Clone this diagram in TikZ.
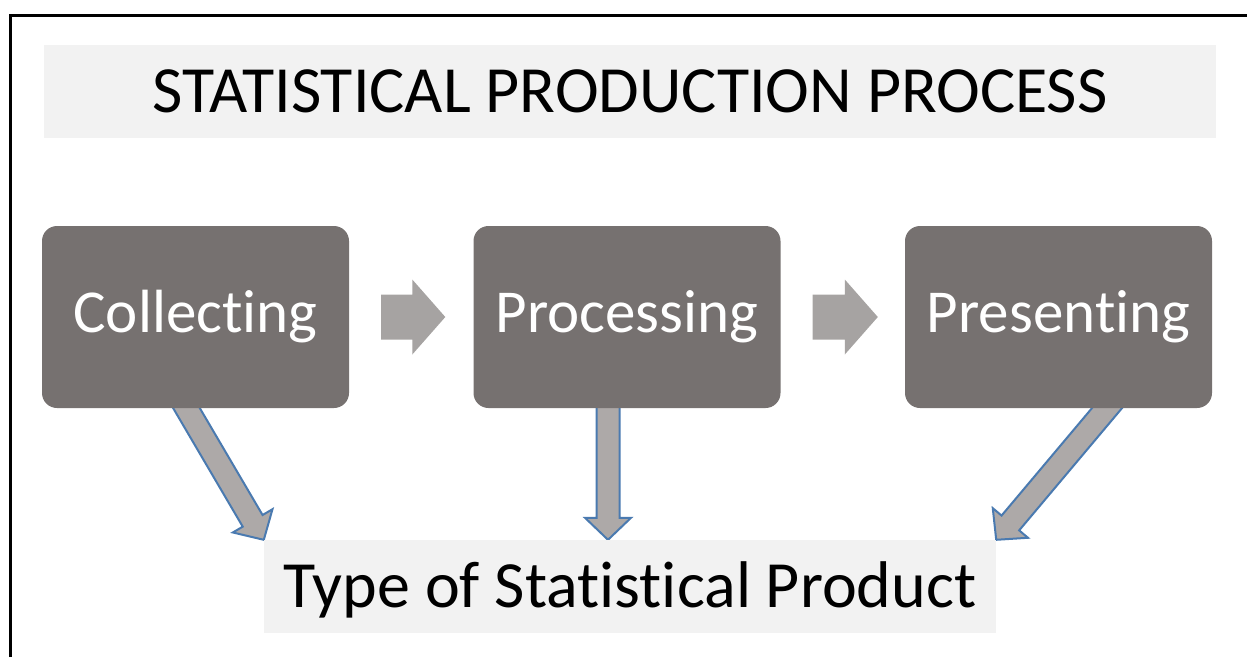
\documentclass[tikz,border=0pt]{standalone}
\usepackage{fontspec}
\setmainfont{Carlito}[RawFeature={-liga;-clig;-calt;-dlig}]
\usepackage{tikz}
\usetikzlibrary{calc, backgrounds}
\definecolor{boxgrey}{RGB}{118,113,112}
\definecolor{lightbar}{RGB}{242,242,242}
\definecolor{flowgrey}{RGB}{166,163,162}
\definecolor{downgrey}{RGB}{173,169,168}
\definecolor{edgeblue}{RGB}{74,122,176}
\tikzstyle{banner} = [rectangle, fill=lightbar, text=black, inner sep=0pt, text height=42pt, text depth=0pt]
\tikzstyle{stage} = [rectangle, rounded corners=15pt, minimum width=307pt, minimum height=182pt, text centered, fill=boxgrey, text=white, font=\fontsize{61}{70}\selectfont]
\tikzstyle{flow} = [fill=flowgrey]
\tikzstyle{feed} = [fill=downgrey, draw=edgeblue, line width=2pt, line join=miter]

% block arrow: [style]{from}{to}{half shaft}{half head}{head length}
\newcommand{\blockarrow}[6][]{%
  \coordinate (ba-neck) at ($(#3)!#6!(#2)$);
  \path[#1] ($(#2)!#4!90:(#3)$) -- ($(ba-neck)!#4!90:(#3)$) -- ($(ba-neck)!#5!90:(#3)$)
    -- (#3) -- ($(ba-neck)!#5!-90:(#3)$) -- ($(ba-neck)!#4!-90:(#3)$) -- ($(#2)!#4!-90:(#3)$) -- cycle;
}

\begin{document}
\begin{tikzpicture}[x=1pt, y=-1pt, node distance=431.5pt]
  \useasboundingbox (0,0) rectangle (1247,657);
  \draw[line width=3pt] (10,657) -- (10,15) -- (1247,15);

  \node (title) [banner, minimum width=1172pt, minimum height=93pt, font=\fontsize{66}{72}\selectfont] at (630,91.5) {STATISTICAL PRODUCTION PROCESS};

  \node (collect) [stage] at (195.5,317) {Collecting};
  \node (process) [stage, right of=collect] {Processing};
  \node (present) [stage, right of=process] {Presenting};

  \node (product) [banner, minimum width=732pt, minimum height=93pt, font=\fontsize{66}{72}\selectfont] at (630,586.5) {Type of Statistical Product};

  % arrows between the stages
  \blockarrow[flow]{$(collect.east)+(32,0)$}{$(process.west)+(-28,0)$}{22.5pt}{37.5pt}{33pt}
  \blockarrow[flow]{$(process.east)+(32,0)$}{$(present.west)+(-27,0)$}{22.5pt}{37.5pt}{33pt}

  % arrows down to the product, kept behind the boxes
  \begin{pgfonlayer}{background}
    \blockarrow[feed]{$(collect.south)+(-16,-12)$}{product.north west}{11.5pt}{23pt}{22pt}
    \blockarrow[feed]{$(process.south)+(-19,-13)$}{$(product.north)+(-22,0)$}{11.5pt}{23pt}{22pt}
    \blockarrow[feed]{$(present.south)+(58.5,-12)$}{product.north east}{11.5pt}{23pt}{22pt}
  \end{pgfonlayer}
\end{tikzpicture}
\end{document}
